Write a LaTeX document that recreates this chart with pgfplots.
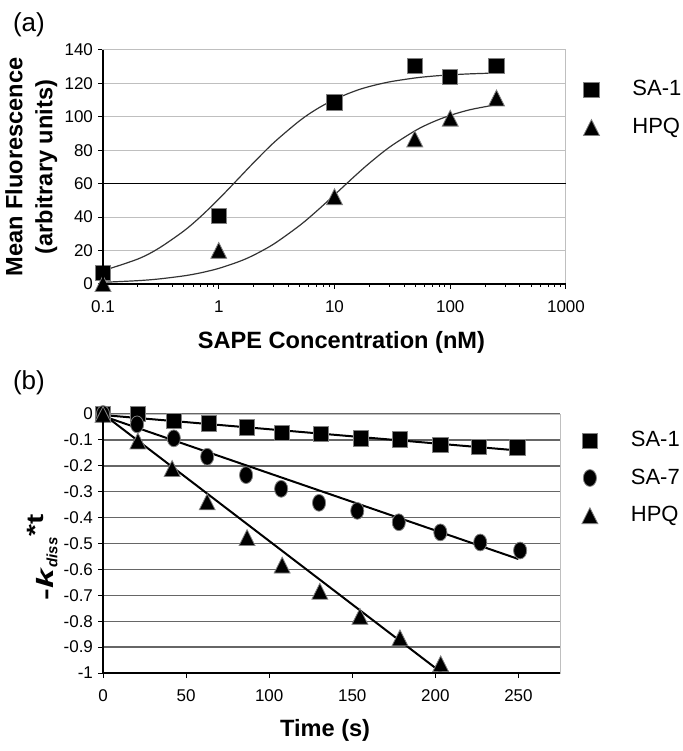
\documentclass[border=0pt]{standalone}
\usepackage{graphicx}
\usepackage{pgfplots}
\pgfplotsset{compat=1.18}
\usepackage{fontspec}
\setmainfont{Liberation Sans}

\pgfplotsset{
  panel/.style={
    scale only axis, clip=false,
    tick align=outside, xtick pos=left, ytick pos=left,
    major tick length=2.5pt, minor tick length=1.5pt,
    tick style={black, line width=0.5pt},
    tick label style={font=\fontsize{8.5}{10}\selectfont},
    xticklabel style={yshift=-2.5pt},
    yticklabel style={xshift=1pt},
    label style={font=\fontsize{11.8}{15}\selectfont\bfseries},
    axis line style={draw=gray!50, line width=0.5pt},
    after end axis/.code={
      \draw[black, line width=0.6pt] (rel axis cs:0,1) -- (rel axis cs:0,0) -- (rel axis cs:1,0);
    },
    legend style={draw=none, fill=none, font=\fontsize{11}{13}\selectfont,
      column sep=14.5pt, row sep=5.5pt, anchor=north west},
    legend cell align=left,
  },
  sq/.style={only marks, mark=square*, mark size=3.8pt,
    mark options={fill=black, draw=black!50, line width=0.4pt}},
  tri/.style={only marks, mark=triangle*, mark size=4.6pt,
    mark options={fill=black, draw=black!50, line width=0.4pt, yscale=1.15, yshift=-1.3pt}},
  circ/.style={only marks, mark=*, mark size=4.2pt,
    mark options={fill=black, draw=black!50, line width=0.4pt, xscale=0.78}},
}

\begin{document}
\begin{tikzpicture}
\path[use as bounding box] (0pt,0pt) rectangle (341.5pt,375.5pt);
\node[anchor=west, font=\fontsize{13}{15}\selectfont] at (3pt,363pt) {(a)};
\node[anchor=west, font=\fontsize{13}{15}\selectfont] at (3pt,184pt) {(b)};

% (a) binding curves
\begin{axis}[panel,
  at={(51.5pt,233.5pt)}, anchor=south west,
  width=231.5pt, height=117pt,
  xmode=log, xmin=0.1, xmax=1000, ymin=0, ymax=140,
  xtick={0.1,1,10,100,1000}, xticklabels={0.1,1,10,100,1000},
  minor xtick={0.2,0.3,0.4,0.5,0.6,0.7,0.8,0.9,2,3,4,5,6,7,8,9,20,30,40,50,60,70,80,90,200,300,400,500,600,700,800,900},
  ytick={0,20,40,60,80,100,120,140}, yticklabels={0,20,40,60,80,100,120,140},
  ymajorgrids, major grid style={gray!50, line width=0.5pt},
  extra y ticks={60}, extra y tick labels={},
  extra y tick style={major grid style={black, line width=0.6pt}},
  xlabel={SAPE Concentration (nM)},
  ylabel={Mean Fluorescence\\(arbitrary units)},
  xlabel style={at={(axis description cs:0.515,-0.25)}, anchor=center},
  ylabel style={at={(axis description cs:-0.155,0.5)}, anchor=center, align=center},
  legend style={at={(1.024,0.905)}},
]
\addplot[black!80, line width=0.6pt, smooth, forget plot] coordinates {
  (0.1,7.94) (0.2,14.94) (0.3,21.17) (0.5,31.75) (0.7,40.41) (1,50.8)
  (1.5,63.5) (2,72.57) (3,84.67) (5,97.69) (7,104.59) (10,110.43)
  (15,115.45) (20,118.14) (30,120.95) (50,123.3) (70,124.34) (100,125.12)
  (150,125.74) (250,126.24)};
\addplot[black!80, line width=0.6pt, smooth, forget plot] coordinates {
  (0.1,1.01) (0.2,2.0) (0.3,2.97) (0.5,4.87) (0.7,6.7) (1,9.33)
  (1.5,13.44) (2,17.23) (3,24.0) (5,35.0) (7,43.56) (10,53.33)
  (15,64.62) (20,72.26) (30,81.95) (50,91.8) (70,96.79) (100,100.9)
  (150,104.35) (250,107.28)};
\addplot[sq] coordinates {(0.1,6.6) (1,40.8) (10,108.6) (49.4,130.5) (100,124.1) (251,130.5)};
\addlegendentry{SA-1}
\addplot[tri] coordinates {(0.1,0.5) (1,20.3) (10,52.4) (49.4,87) (100,99.4) (251,111.5)};
\addlegendentry{HPQ}
\end{axis}

% (b) dissociation
\begin{axis}[panel,
  at={(51.5pt,39pt)}, anchor=south west,
  width=228.5pt, height=129.5pt,
  xmin=0, xmax=275, ymin=-1, ymax=0,
  xtick={0,50,100,150,200,250}, xticklabels={0,50,100,150,200,250},
  ytick={-1,-0.9,-0.8,-0.7,-0.6,-0.5,-0.4,-0.3,-0.2,-0.1,0},
  yticklabels={-1,-0.9,-0.8,-0.7,-0.6,-0.5,-0.4,-0.3,-0.2,-0.1,0},
  ymajorgrids, major grid style={black!60, line width=0.7pt},
  xlabel={Time (s)},
  ylabel={\scalebox{1.5}[1]{-\textit{k}}\textsubscript{\fontsize{7.5}{8}\selectfont\textit{diss}}\raisebox{0.42em}{\scalebox{1.3}[1]{*t}}},
  xlabel style={at={(axis description cs:0.486,-0.22)}, anchor=center},
  ylabel style={at={(axis description cs:-0.132,0.446)}, anchor=center},
  legend style={at={(1.034,0.965)}},
]
\addplot[black, line width=1pt, forget plot] coordinates {(0,-0.004) (250,-0.141)};
\addplot[black, line width=1pt, forget plot] coordinates {(0,-0.008) (250,-0.56)};
\addplot[black, line width=1pt, forget plot] coordinates {(0,0) (204,-1)};
\addplot[sq] coordinates {
  (0,0) (21,0) (42.6,-0.026) (63.7,-0.036) (86.7,-0.052) (107.8,-0.072)
  (131,-0.077) (155,-0.094) (178.7,-0.098) (203,-0.12) (226,-0.126) (249.4,-0.129)};
\addlegendentry{SA-1}
\addplot[circ] coordinates {
  (0,0) (20.5,-0.04) (42.6,-0.094) (62.7,-0.165) (86.1,-0.236) (107.2,-0.289)
  (130,-0.343) (153,-0.374) (178,-0.418) (203,-0.457) (227,-0.496) (251,-0.527)};
\addlegendentry{SA-7}
\addplot[tri] coordinates {
  (0,0) (21,-0.103) (41.6,-0.209) (62.7,-0.338) (86.7,-0.476) (107.8,-0.582)
  (130.5,-0.683) (154.6,-0.78) (178.7,-0.863) (203.2,-0.963)};
\addlegendentry{HPQ}
\end{axis}
\end{tikzpicture}
\end{document}
